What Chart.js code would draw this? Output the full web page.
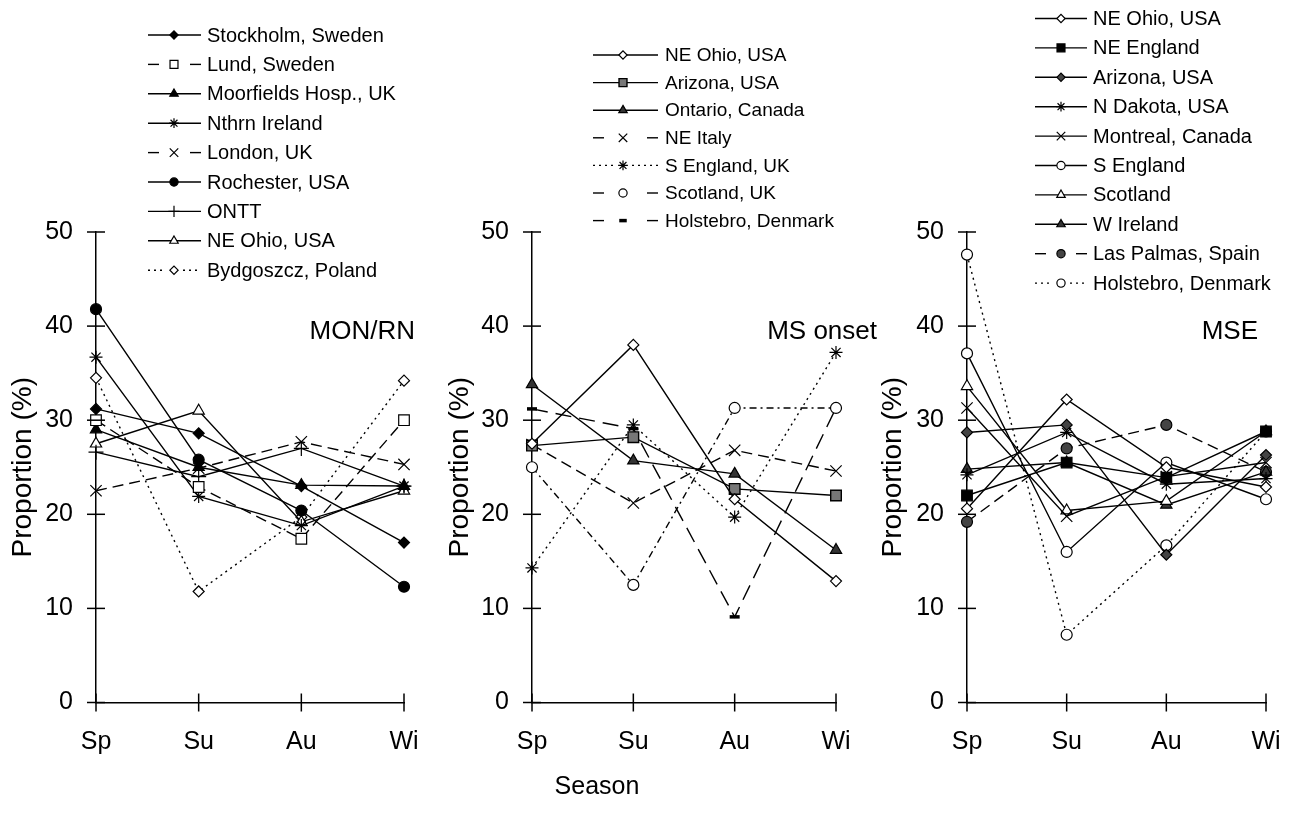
<!DOCTYPE html>
<html><head><meta charset="utf-8">
<script src="https://cdn.jsdelivr.net/npm/chart.js@4.4.1/dist/chart.umd.min.js"></script>
<style>
html,body{margin:0;padding:0;background:#fff;}
#wrap{position:relative;width:1292px;height:824px;overflow:hidden;background:#fff;}
canvas{position:absolute;top:0;}
#season{position:absolute;left:497px;width:200px;text-align:center;top:771px;font:25px "Liberation Sans",Arial,sans-serif;color:#000;}
</style></head><body>
<div id="wrap">
<canvas id="p1" style="left:0px"></canvas>
<canvas id="p2" style="left:440px"></canvas>
<canvas id="p3" style="left:870px"></canvas>
<div id="season">Season</div>
</div>
<script>
// ---------- data ----------
const seasons = ['Sp', 'Su', 'Au', 'Wi'];
const yTickValues = [0, 10, 20, 30, 40, 50];
const yTitle = 'Proportion (%)';
const panelTitles = ['MON/RN', 'MS onset', 'MSE'];

// Panel 1: MON/RN
const monNames = ['Stockholm, Sweden', 'Lund, Sweden', 'Moorfields Hosp., UK', 'Nthrn Ireland', 'London, UK', 'Rochester, USA', 'ONTT', 'NE Ohio, USA', 'Bydgoszcz, Poland'];
const stockholm   = [31.2, 28.6, 23.0, 17.0];
const lund        = [30.0, 22.9, 17.4, 30.0];
const moorfields  = [29.0, 25.0, 23.1, 23.0];
const nthrnIrel   = [36.7, 21.9, 18.8, 23.0];
const londonUK    = [22.5, 24.9, 27.7, 25.3];
const rochester   = [41.8, 25.8, 20.4, 12.3];
const ontt        = [26.6, 24.0, 27.0, 23.0];
const neOhioMon   = [27.5, 31.0, 19.2, 22.5];
const bydgoszcz   = [34.5, 11.8, 19.7, 34.2];

// Panel 2: MS onset
const onsetNames = ['NE Ohio, USA', 'Arizona, USA', 'Ontario, Canada', 'NE Italy', 'S England, UK', 'Scotland, UK', 'Holstebro, Denmark'];
const neOhioOnset    = [27.5, 38.0, 21.6, 12.9];
const arizonaOnset   = [27.3, 28.2, 22.7, 22.0];
const ontario        = [33.8, 25.7, 24.3, 16.2];
const neItaly        = [27.4, 21.2, 26.8, 24.6];
const sEnglandOnset  = [14.3, 29.5, 19.7, 37.2];
const scotlandOnset  = [25.0, 12.5, 31.3, 31.3];
const holstebroOnset = [31.2, 29.1, 9.1, 31.3];

// Panel 3: MSE
const mseNames = ['NE Ohio, USA', 'NE England', 'Arizona, USA', 'N Dakota, USA', 'Montreal, Canada', 'S England', 'Scotland', 'W Ireland', 'Las Palmas, Spain', 'Holstebro, Denmark'];
const neOhioMse    = [20.6, 32.2, 25.0, 22.9];
const neEngland    = [22.0, 25.5, 23.9, 28.8];
const arizonaMse   = [28.7, 29.5, 15.7, 26.3];
const nDakota      = [24.2, 28.7, 23.2, 23.8];
const montreal     = [31.3, 19.8, 24.0, 25.5];
const sEnglandMse  = [37.1, 16.0, 25.5, 21.6];
const scotlandMse  = [33.6, 20.4, 21.4, 28.8];
const wIreland     = [24.8, 25.5, 21.0, 24.5];
const lasPalmas    = [19.2, 27.0, 29.5, 24.5];
const holstebroMse = [47.6, 7.2, 16.7, 28.8];

// ---------- styles ----------
const FONT = '"Liberation Sans", Arial, Helvetica, sans-serif';
const DASH = { solid: [], dash: [11, 6], dot: [2, 4], dashdot: [7, 4, 2, 4], longdash: [16, 8] };
const MK = {
  fdiam:  { style: 'rectRot',  r: 5.5, fill: '#000', bw: 1.2 },
  gdiam:  { style: 'rectRot',  r: 5.5, fill: '#444', bw: 1.2 },
  odiam:  { style: 'rectRot',  r: 5.5, fill: '#fff', bw: 1.2 },
  osq:    { style: 'rect',     r: 7.5, fill: '#fff', bw: 1.2 },
  fsq:    { style: 'rect',     r: 7.5, fill: '#000', bw: 1.2 },
  gsq:    { style: 'rect',     r: 7.5, fill: '#777', bw: 1.4 },
  ftri:   { style: 'triangle', r: 6.5, fill: '#000', bw: 1.2 },
  gtri:   { style: 'triangle', r: 6.5, fill: '#333', bw: 1.2 },
  otri:   { style: 'triangle', r: 6.5, fill: '#fff', bw: 1.2 },
  star:   { style: 'star',     r: 6.5, fill: '#000', bw: 1.2 },
  xx:     { style: 'crossRot', r: 8,   fill: '#000', bw: 1.2 },
  plus:   { style: 'cross',    r: 7.5, fill: '#000', bw: 1.2 },
  fcirc:  { style: 'circle',   r: 5.5, fill: '#000', bw: 1.2 },
  gcirc:  { style: 'circle',   r: 5.5, fill: '#444', bw: 1.2 },
  ocirc:  { style: 'circle',   r: 5.5, fill: '#fff', bw: 1.2 },
  bar:    { style: 'line',     r: 5,   fill: '#000', bw: 3.5 }
};

const RIGHT_PAD = 40;
const panels = [
  { id: 'p1', left: 0, axisX: 96, wiX: 404, titleCx: 23, labelRight: 415,
    legend: { x0: 148, x1: 201, mx: 174, tx: 207, y0: 35, dy: 29.4, size: 20 },
    series: [
      [monNames[0], stockholm, 'solid', 'fdiam'],
      [monNames[1], lund, 'dash', 'osq'],
      [monNames[2], moorfields, 'solid', 'ftri'],
      [monNames[3], nthrnIrel, 'solid', 'star'],
      [monNames[4], londonUK, 'dash', 'xx'],
      [monNames[5], rochester, 'solid', 'fcirc'],
      [monNames[6], ontt, 'solid', 'plus'],
      [monNames[7], neOhioMon, 'solid', 'otri'],
      [monNames[8], bydgoszcz, 'dot', 'odiam']
    ] },
  { id: 'p2', left: 440, axisX: 532, wiX: 836, titleCx: 460, labelRight: 877,
    legend: { x0: 593, x1: 658, mx: 623, tx: 665, y0: 55, dy: 27.6, size: 19 },
    series: [
      [onsetNames[0], neOhioOnset, 'solid', 'odiam'],
      [onsetNames[1], arizonaOnset, 'solid', 'gsq'],
      [onsetNames[2], ontario, 'solid', 'gtri'],
      [onsetNames[3], neItaly, 'dash', 'xx'],
      [onsetNames[4], sEnglandOnset, 'dot', 'star'],
      [onsetNames[5], scotlandOnset, 'dashdot', 'ocirc'],
      [onsetNames[6], holstebroOnset, 'longdash', 'bar']
    ] },
  { id: 'p3', left: 870, axisX: 967, wiX: 1266, titleCx: 893, labelRight: 1258,
    legend: { x0: 1035, x1: 1087, mx: 1061, tx: 1093, y0: 18.5, dy: 29.4, size: 20 },
    series: [
      [mseNames[0], neOhioMse, 'solid', 'odiam'],
      [mseNames[1], neEngland, 'solid', 'fsq'],
      [mseNames[2], arizonaMse, 'solid', 'gdiam'],
      [mseNames[3], nDakota, 'solid', 'star'],
      [mseNames[4], montreal, 'solid', 'xx'],
      [mseNames[5], sEnglandMse, 'solid', 'ocirc'],
      [mseNames[6], scotlandMse, 'solid', 'otri'],
      [mseNames[7], wIreland, 'solid', 'gtri'],
      [mseNames[8], lasPalmas, 'dash', 'gcirc'],
      [mseNames[9], holstebroMse, 'dot', 'ocirc']
    ] }
];

const TOP = 232, BOTTOM = 702.5, H = 824;

function drawMarker(ctx, m, x, y, scale) {
  ctx.save();
  ctx.setLineDash([]);
  ctx.fillStyle = m.fill;
  ctx.strokeStyle = '#000';
  ctx.lineWidth = m.bw;
  Chart.helpers.drawPoint(ctx, { pointStyle: m.style, radius: m.r * scale, borderWidth: m.bw, rotation: 0 }, x, y);
  ctx.restore();
}

function seg(ctx, x0, y0, x1, y1) { ctx.beginPath(); ctx.moveTo(x0, y0); ctx.lineTo(x1, y1); ctx.stroke(); }

panels.forEach((p, pi) => {
  const off = p.left;
  const cv = document.getElementById(p.id);
  cv.width = Math.max(p.wiX - off + RIGHT_PAD, p.labelRight - off + 10);
  cv.height = H;
  const datasets = p.series.map(([name, vals, line, mk]) => {
    const m = MK[mk];
    return {
      label: name, data: vals,
      borderColor: '#000', borderWidth: 1.4, borderDash: DASH[line],
      pointStyle: m.style, pointRadius: m.r, pointHoverRadius: m.r,
      pointBackgroundColor: m.fill, pointBorderColor: '#000', pointBorderWidth: m.bw,
      tension: 0, fill: false, clip: false
    };
  });

  const deco = {
    id: 'deco' + pi,
    afterDraw(chart) {
      const ctx = chart.ctx;
      const xs = chart.scales.x, ys = chart.scales.y;
      const ax = chart.chartArea.left, by = chart.chartArea.bottom;
      ctx.save();
      ctx.strokeStyle = '#000'; ctx.lineWidth = 1.5; ctx.setLineDash([]);
      yTickValues.forEach(v => { const py = ys.getPixelForValue(v); seg(ctx, ax - 9, py, ax + 9, py); });
      seasons.forEach((s, i) => { const px = xs.getPixelForValue(i); seg(ctx, px, by - 9, px, by + 9); });
      // panel label
      ctx.fillStyle = '#000';
      ctx.font = '26px ' + FONT;
      ctx.textAlign = 'right'; ctx.textBaseline = 'alphabetic';
      ctx.fillText(panelTitles[pi], p.labelRight - off, 339);
      // legend
      const L = p.legend;
      ctx.font = L.size + 'px ' + FONT;
      ctx.textAlign = 'left'; ctx.textBaseline = 'middle';
      p.series.forEach(([name, vals, line, mk], i) => {
        const y = L.y0 + i * L.dy;
        const x0 = L.x0 - off, x1 = L.x1 - off, mx = L.mx - off;
        ctx.lineWidth = 1.4; ctx.strokeStyle = '#000';
        if (line === 'solid') { ctx.setLineDash([]); seg(ctx, x0, y, x1, y); }
        else if (line === 'dot') { ctx.setLineDash([2, 4]); seg(ctx, x0, y, mx - 9, y); seg(ctx, mx + 9, y, x1, y); }
        else { ctx.setLineDash([]); seg(ctx, x0, y, x0 + 11, y); seg(ctx, x1 - 11, y, x1, y); }
        drawMarker(ctx, MK[mk], mx, y, 0.75);
        ctx.fillStyle = '#000';
        ctx.fillText(name, L.tx - off, y + 1);
      });
      ctx.restore();
    }
  };

  new Chart(cv, {
    type: 'line',
    data: { labels: seasons, datasets },
    options: {
      responsive: false, animation: false, devicePixelRatio: 1,
      layout: { padding: { left: 0, top: TOP, right: cv.width - (p.wiX - off), bottom: 0 } },
      plugins: { legend: { display: false }, tooltip: { enabled: false } },
      scales: {
        x: {
          type: 'category', offset: false,
          grid: { display: false, drawTicks: false },
          border: { display: true, color: '#000', width: 1.5 },
          ticks: { color: '#000', font: { family: FONT, size: 25 }, padding: 25, maxRotation: 0, autoSkip: false },
          afterFit: s => { s.height = H - BOTTOM; }
        },
        y: {
          min: 0, max: 50,
          grid: { display: false, drawTicks: false },
          border: { display: true, color: '#000', width: 1.5 },
          ticks: { color: '#000', font: { family: FONT, size: 25 }, padding: 23, stepSize: 10 },
          afterBuildTicks: s => { s.ticks = yTickValues.map(v => ({ value: v })); },
          title: { display: true, text: yTitle, color: '#000', font: { family: FONT, size: 28 }, padding: { top: p.titleCx - off - 16.8, bottom: 0 } },
          afterFit: s => { s.width = p.axisX - off; }
        }
      }
    },
    plugins: [deco]
  });
});
</script>
</body></html>
